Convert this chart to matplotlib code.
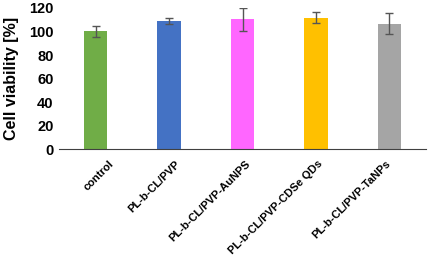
import matplotlib.pyplot as plt
import matplotlib.transforms as mtransforms
import numpy as np

plt.rcParams["font.family"] = ["Liberation Sans", "DejaVu Sans"]

labels = ["control", "PL-b-CL/PVP", "PL-b-CL/PVP-AuNPS", "PL-b-CL/PVP-CDSe QDs", "PL-b-CL/PVP-TaNPs"]
values = [100.3, 108.8, 110.5, 111.8, 106.8]
errors = [4.6, 2.4, 9.8, 4.6, 8.8]
colors = ["#70AD47", "#4472C4", "#FF66FF", "#FFC000", "#A5A5A5"]

fig = plt.figure(figsize=(4.29, 2.58), dpi=100)
ax = fig.add_axes([0.1375, 0.422, 0.856, 0.547])
x = np.arange(len(labels))
ax.bar(x, values, width=0.32, color=colors, yerr=errors,
       error_kw=dict(ecolor="#555555", elinewidth=1, capsize=3, capthick=1))
ax.set_xlim(-0.5, 4.5)
ax.set_ylim(0, 120)
ax.set_yticks(np.arange(0, 121, 20))
ax.set_yticklabels([str(v) for v in range(0, 121, 20)], fontsize=10.5, fontweight="bold")
ax.set_xticks(x)
ax.set_xticklabels(labels, rotation=45, ha="right", rotation_mode="anchor",
                   fontsize=8, fontweight="bold")
ax.tick_params(axis="both", length=0, pad=4)
ax.tick_params(axis="x", pad=7)
# Excel-style label placement: nudge each label sideways a little
shifts = [13, 6, 3, 1, -4]
for lab, dx in zip(ax.get_xticklabels(), shifts):
    lab.set_transform(lab.get_transform() + mtransforms.ScaledTranslation(dx / 100, 0, fig.dpi_scale_trans))
for s in ["top", "right", "left"]:
    ax.spines[s].set_visible(False)
ax.spines["bottom"].set_color("#404040")
ax.set_ylabel("Cell viability [%]", fontsize=11.5, fontweight="bold", labelpad=7)
fig.savefig("out.png", dpi=100)
